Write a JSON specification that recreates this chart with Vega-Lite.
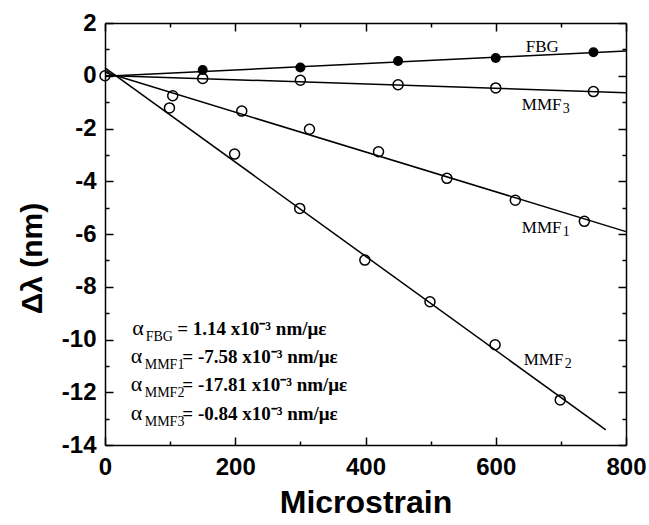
{
  "$schema": "https://vega.github.io/schema/vega-lite/v6.json",
  "width": 521,
  "height": 422,
  "autosize": {"type": "none"},
  "padding": {"left": 105, "top": 23, "right": 23, "bottom": 80},
  "background": "white",
  "config": {"view": {"stroke": null}, "axis": {"grid": false, "labelOverlap": false, "labelFlush": false}},
  "datasets": {
    "fits": [
      {"series": "FBG", "x": 0, "y": -0.02}, {"series": "FBG", "x": 800, "y": 0.94},
      {"series": "MMF3", "x": 0, "y": 0.014}, {"series": "MMF3", "x": 800, "y": -0.64},
      {"series": "MMF1", "x": 0, "y": 0.13}, {"series": "MMF1", "x": 800, "y": -5.91},
      {"series": "MMF2", "x": 0, "y": 0.30}, {"series": "MMF2", "x": 769, "y": -13.43}
    ],
    "points": [
      {"series": "FBG", "x": 150, "y": 0.22}, {"series": "FBG", "x": 300, "y": 0.31}, {"series": "FBG", "x": 450, "y": 0.56}, {"series": "FBG", "x": 600, "y": 0.67}, {"series": "FBG", "x": 750, "y": 0.89},
      {"series": "MMF3", "x": 0, "y": 0.0}, {"series": "MMF3", "x": 150, "y": -0.1}, {"series": "MMF3", "x": 300, "y": -0.17}, {"series": "MMF3", "x": 450, "y": -0.34}, {"series": "MMF3", "x": 600, "y": -0.46}, {"series": "MMF3", "x": 750, "y": -0.6},
      {"series": "MMF1", "x": 104, "y": -0.76}, {"series": "MMF1", "x": 210, "y": -1.34}, {"series": "MMF1", "x": 314, "y": -2.03}, {"series": "MMF1", "x": 420, "y": -2.88}, {"series": "MMF1", "x": 525, "y": -3.89}, {"series": "MMF1", "x": 630, "y": -4.72}, {"series": "MMF1", "x": 736, "y": -5.52},
      {"series": "MMF2", "x": 99, "y": -1.22}, {"series": "MMF2", "x": 199, "y": -2.97}, {"series": "MMF2", "x": 299, "y": -5.03}, {"series": "MMF2", "x": 399, "y": -6.99}, {"series": "MMF2", "x": 499, "y": -8.57}, {"series": "MMF2", "x": 599, "y": -10.2}, {"series": "MMF2", "x": 699, "y": -12.29}
    ],
    "labels": [
      {"main": "FBG", "sub": "", "x": 646, "y": 0.91},
      {"main": "MMF", "sub": "3", "x": 640, "y": -1.3},
      {"main": "MMF", "sub": "1", "x": 640, "y": -5.97},
      {"main": "MMF", "sub": "2", "x": 643, "y": -10.97}
    ],
    "notes": [
      {"part": "alpha", "text": "α", "x": 42, "y": -9.83},
      {"part": "sub", "text": "FBG", "x": 62.5, "y": -9.83},
      {"part": "eq", "text": "= 1.14 x10⁻³ nm/με", "x": 111, "y": -9.83},
      {"part": "alpha", "text": "α", "x": 39.5, "y": -10.89},
      {"part": "sub", "text": "MMF1", "x": 61, "y": -10.89},
      {"part": "eq", "text": "= -7.58 x10⁻³ nm/με", "x": 118.7, "y": -10.89},
      {"part": "alpha", "text": "α", "x": 39.5, "y": -11.95},
      {"part": "sub", "text": "MMF2", "x": 61, "y": -11.95},
      {"part": "eq", "text": "= -17.81 x10⁻³ nm/με", "x": 118.7, "y": -11.95},
      {"part": "alpha", "text": "α", "x": 39.5, "y": -13.05},
      {"part": "sub", "text": "MMF3", "x": 61, "y": -13.05},
      {"part": "eq", "text": "= -0.84 x10⁻³ nm/με", "x": 118.7, "y": -13.05}
    ]
  },
  "resolve": {"axis": {"x": "independent", "y": "independent"}},
  "layer": [
    {
      "data": {"name": "fits"},
      "mark": {"type": "line", "color": "black", "strokeWidth": 1.5},
      "encoding": {
        "x": {"field": "x", "type": "quantitative", "scale": {"domain": [0, 800], "nice": false, "zero": false},
          "axis": {"orient": "bottom", "values": [0, 200, 400, 600, 800], "labelExpr": "'' + datum.value", "tickSize": -8, "tickWidth": 1.5, "tickColor": "black", "domainColor": "black", "domainWidth": 1.5,
            "labelFont": "Liberation Sans", "labelFontWeight": "bold", "labelFontSize": 24, "labelColor": "black", "labelPadding": 18,
            "title": "Microstrain", "titleFont": "Liberation Sans", "titleFontSize": 32, "titleFontWeight": "bold", "titleColor": "black", "titlePadding": 8}},
        "y": {"field": "y", "type": "quantitative", "scale": {"domain": [-14, 2], "nice": false, "zero": false},
          "axis": {"orient": "left", "values": [-14, -12, -10, -8, -6, -4, -2, 0, 2], "labelExpr": "'' + datum.value", "tickSize": -8, "tickWidth": 1.5, "tickColor": "black", "domainColor": "black", "domainWidth": 1.5,
            "labelFont": "Liberation Sans", "labelFontWeight": "bold", "labelFontSize": 24, "labelColor": "black", "labelPadding": 17,
            "title": "Δλ (nm)", "titleFont": "Liberation Sans", "titleFontSize": 30, "titleFontWeight": "bold", "titleColor": "black", "titlePadding": 14, "titleY": 235}},
        "detail": {"field": "series"}
      }
    },
    {
      "data": {"name": "points"},
      "transform": [{"filter": "datum.series === 'FBG'"}],
      "mark": {"type": "point", "shape": "circle", "filled": true, "size": 100, "color": "black", "opacity": 1},
      "encoding": {
        "x": {"field": "x", "type": "quantitative", "scale": {"domain": [0, 800], "nice": false, "zero": false},
          "axis": {"orient": "top", "values": [0, 200, 400, 600, 800], "tickSize": -8, "tickWidth": 1.5, "tickColor": "black", "domainColor": "black", "domainWidth": 1.5, "labels": false, "title": null}},
        "y": {"field": "y", "type": "quantitative", "scale": {"domain": [-14, 2], "nice": false, "zero": false},
          "axis": {"orient": "right", "values": [-14, -12, -10, -8, -6, -4, -2, 0, 2], "tickSize": -8, "tickWidth": 1.5, "tickColor": "black", "domainColor": "black", "domainWidth": 1.5, "labels": false, "title": null}}
      }
    },
    {
      "data": {"name": "points"},
      "transform": [{"filter": "datum.series !== 'FBG'"}],
      "mark": {"type": "point", "shape": "circle", "filled": false, "size": 100, "stroke": "black", "strokeWidth": 1.5, "opacity": 1},
      "encoding": {
        "x": {"field": "x", "type": "quantitative", "scale": {"domain": [0, 800], "nice": false, "zero": false},
          "axis": {"orient": "bottom", "values": [100, 300, 500, 700], "tickSize": -4, "tickWidth": 1.5, "tickColor": "black", "domain": false, "labels": false, "title": null}},
        "y": {"field": "y", "type": "quantitative", "scale": {"domain": [-14, 2], "nice": false, "zero": false},
          "axis": {"orient": "left", "values": [1, -1, -3, -5, -7, -9, -11, -13], "tickSize": -4, "tickWidth": 1.5, "tickColor": "black", "domain": false, "labels": false, "title": null}}
      }
    },
    {
      "data": {"name": "labels"},
      "mark": {"type": "text", "font": "Liberation Serif", "fontSize": 17, "align": "left", "baseline": "alphabetic", "color": "black"},
      "encoding": {
        "x": {"field": "x", "type": "quantitative", "scale": {"domain": [0, 800], "nice": false, "zero": false},
          "axis": {"orient": "top", "values": [100, 300, 500, 700], "tickSize": -4, "tickWidth": 1.5, "tickColor": "black", "domain": false, "labels": false, "title": null}},
        "y": {"field": "y", "type": "quantitative", "scale": {"domain": [-14, 2], "nice": false, "zero": false},
          "axis": {"orient": "right", "values": [1, -1, -3, -5, -7, -9, -11, -13], "tickSize": -4, "tickWidth": 1.5, "tickColor": "black", "domain": false, "labels": false, "title": null}},
        "text": {"field": "main"}
      }
    },
    {
      "data": {"name": "labels"},
      "mark": {"type": "text", "font": "Liberation Serif", "fontSize": 14, "align": "left", "baseline": "alphabetic", "color": "black", "dx": 41, "dy": 3},
      "encoding": {
        "x": {"field": "x", "type": "quantitative", "scale": {"domain": [0, 800], "nice": false, "zero": false}, "axis": null},
        "y": {"field": "y", "type": "quantitative", "scale": {"domain": [-14, 2], "nice": false, "zero": false}, "axis": null},
        "text": {"field": "sub"}
      }
    },
    {
      "data": {"name": "notes"},
      "transform": [{"filter": "datum.part === 'alpha'"}],
      "mark": {"type": "text", "font": "Liberation Serif", "fontSize": 22, "align": "left", "baseline": "alphabetic", "color": "black"},
      "encoding": {
        "x": {"field": "x", "type": "quantitative", "scale": {"domain": [0, 800], "nice": false, "zero": false}, "axis": null},
        "y": {"field": "y", "type": "quantitative", "scale": {"domain": [-14, 2], "nice": false, "zero": false}, "axis": null},
        "text": {"field": "text"}
      }
    },
    {
      "data": {"name": "notes"},
      "transform": [{"filter": "datum.part === 'sub'"}],
      "mark": {"type": "text", "font": "Liberation Serif", "fontSize": 14, "align": "left", "baseline": "alphabetic", "color": "black", "dy": 6},
      "encoding": {
        "x": {"field": "x", "type": "quantitative", "scale": {"domain": [0, 800], "nice": false, "zero": false}, "axis": null},
        "y": {"field": "y", "type": "quantitative", "scale": {"domain": [-14, 2], "nice": false, "zero": false}, "axis": null},
        "text": {"field": "text"}
      }
    },
    {
      "data": {"name": "notes"},
      "transform": [{"filter": "datum.part === 'eq'"}],
      "mark": {"type": "text", "font": "Liberation Serif", "fontSize": 19, "fontWeight": "bold", "align": "left", "baseline": "alphabetic", "color": "black"},
      "encoding": {
        "x": {"field": "x", "type": "quantitative", "scale": {"domain": [0, 800], "nice": false, "zero": false}, "axis": null},
        "y": {"field": "y", "type": "quantitative", "scale": {"domain": [-14, 2], "nice": false, "zero": false}, "axis": null},
        "text": {"field": "text"}
      }
    }
  ]
}
